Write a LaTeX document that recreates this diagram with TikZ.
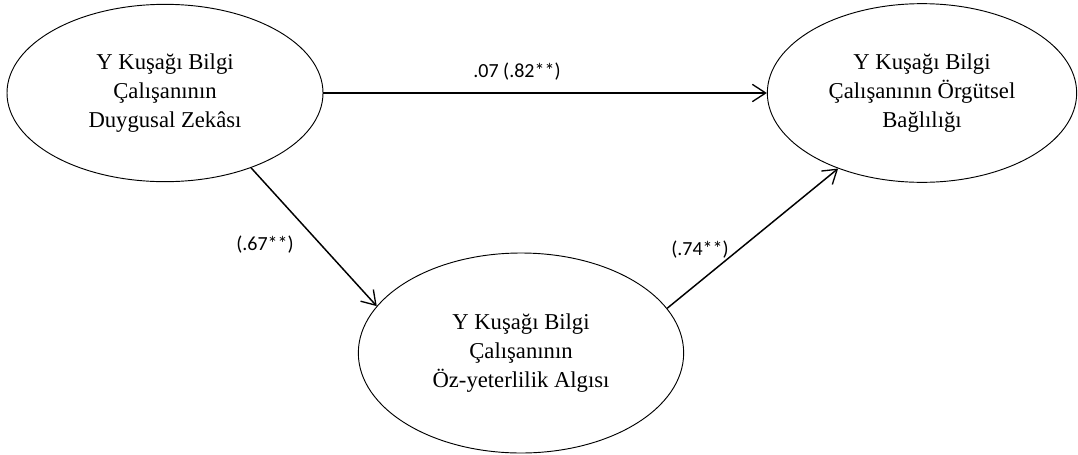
\documentclass[tikz,border=0pt]{standalone}
\usepackage{fontspec}
\setmainfont{Liberation Serif}
\newfontfamily\lblfont{Carlito}
\usetikzlibrary{positioning,arrows.meta,shapes.geometric}

\begin{document}
\begin{tikzpicture}[
  x=0.75pt, y=-0.75pt,
  latent/.style = {ellipse, draw, line width=0.7pt, inner sep=2pt,
                   align=center, font=\fontsize{17}{21.5}\selectfont},
  coef/.style   = {font=\lblfont\fontsize{15}{18}\selectfont},
  arr/.style    = {-{Straight Barb[length=10pt,width=13pt,line width=1pt]},
                   line width=1.1pt}
]
\useasboundingbox (0,0) rectangle (1078,454);

\node[latent, minimum width=237pt, minimum height=133pt] (dz) at (165,93)
      {Y Kuşağı Bilgi\\Çalışanının\\Duygusal Zekâsı};
\node[latent, minimum width=232pt, minimum height=134pt] (ob) at (922,93)
      {Y Kuşağı Bilgi\\Çalışanının Örgütsel\\Bağlılığı};
\node[latent, minimum width=244pt, minimum height=150pt] (oy) at (521,353)
      {Y Kuşağı Bilgi\\Çalışanının\\Öz-yeterlilik Algısı};

\draw[arr] (dz.east) -- (ob.west);
\draw[arr] (dz.-41) -- (oy.162);
\draw[arr] (oy.17) -- (ob.222);

\node[coef] (c-dzob) at (517,72)  {.07 (.82**)};
\node[coef] (c-dzoy) at (265,245) {(.67**)};
\node[coef] (c-oyob) at (700,250) {(.74**)};
\end{tikzpicture}
\end{document}
